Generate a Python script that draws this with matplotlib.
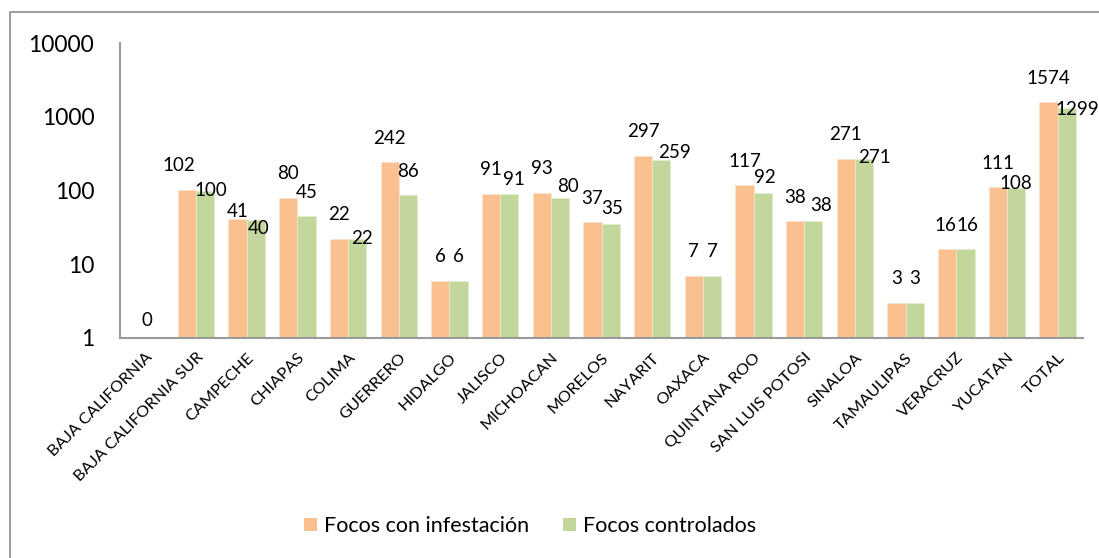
import matplotlib
matplotlib.use("Agg")
import matplotlib.pyplot as plt
import numpy as np
from matplotlib.patches import Patch, Rectangle

plt.rcParams["font.family"] = ["Lato", "DejaVu Sans"]

# data
states = [
    "BAJA CALIFORNIA", "BAJA CALIFORNIA SUR", "CAMPECHE", "CHIAPAS", "COLIMA",
    "GUERRERO", "HIDALGO", "JALISCO", "MICHOACAN", "MORELOS", "NAYARIT",
    "OAXACA", "QUINTANA ROO", "SAN LUIS POTOSI", "SINALOA", "TAMAULIPAS",
    "VERACRUZ", "YUCATAN", "TOTAL",
]
infestacion = [0, 102, 41, 80, 22, 242, 6, 91, 93, 37, 297, 7, 117, 38, 271, 3, 16, 111, 1574]
controlados = [0, 100, 40, 45, 22, 86, 6, 91, 80, 35, 259, 7, 92, 38, 271, 3, 16, 108, 1299]
series_names = ["Focos con infestación", "Focos controlados"]

ORANGE = "#FAC090"
GREEN = "#C3D69B"

# label nudges (pixels) so the value labels sit like the original's
orange_dx = [11, -8, 0, 0, 0, 0, 0, 0, 0, 0, 0, 0, 0, 0, 0, 0, -2, 0, 0]
orange_dy = [18, 24, 8, 24, 24, 24, 24, 24, 24, 24, 24, 24, 24, 24, 24, 24, 24, 24, 24]
green_dx = [0, 6, 3, 0, 5, 0, 0, 5, 8, 2, 13, 0, 2, 8, 10, 0, 2, 0, 10]
green_dy = [0, 0, -9, 24, 0, 24, 24, 14, 11, 16, 8, 24, 16, 16, 1, 24, 24, 5, -1]


def label_bars(ax, xs, vals, dxs, dys, skip_zero=False):
    for x, v, dx, dy in zip(xs, vals, dxs, dys):
        if v <= 0 and skip_zero:
            continue
        ax.annotate(str(v), (x, max(v, 1)), xytext=(dx, dy), textcoords="offset pixels",
                    ha="center", va="center", fontsize=13.5, color="black",
                    annotation_clip=False)


fig = plt.figure(figsize=(10.99, 5.58), dpi=100)
ax = fig.add_axes([120 / 1099, 1 - 338 / 558, 963 / 1099, 295 / 558])

x = np.arange(len(states))
w = 0.36
inf_plot = np.where(np.array(infestacion) > 0, infestacion, np.nan)
ctl_plot = np.where(np.array(controlados) > 0, controlados, np.nan)
ax.bar(x - w / 2, inf_plot, w, color=ORANGE, edgecolor="#fde3cc", linewidth=0.6)
ax.bar(x + w / 2, ctl_plot, w, color=GREEN, edgecolor="#e3edcf", linewidth=0.6)

ax.set_yscale("log")
ax.set_ylim(1, 10000)
ax.set_xlim(-0.5, len(states) - 0.5)
ax.set_yticks([1, 10, 100, 1000, 10000])
ax.set_yticklabels(["1", "10", "100", "1000", "10000"])
ax.yaxis.set_minor_locator(matplotlib.ticker.NullLocator())
ax.tick_params(axis="y", length=0, pad=18.5, labelsize=16.5)
ax.set_xticks(x)
ax.set_xticklabels(states, rotation=45, ha="right", va="top", rotation_mode="anchor",
                   fontsize=11.8)
ax.tick_params(axis="x", length=0, pad=9)

for side in ["top", "right"]:
    ax.spines[side].set_visible(False)
for side in ["left", "bottom"]:
    ax.spines[side].set_color("#9a9a9a")
    ax.spines[side].set_linewidth(1.5)

label_bars(ax, x - w / 2, infestacion, orange_dx, orange_dy)
label_bars(ax, x + w / 2, controlados, green_dx, green_dy, skip_zero=True)

# chart area border like the spreadsheet frame
fig.patches.append(Rectangle((10 / 1099, -0.1), 1.2, 1 - 12 / 558 + 0.1,
                             transform=fig.transFigure, fill=False,
                             edgecolor="#8c8c8c", linewidth=1.2))

handles = [Patch(facecolor=ORANGE, edgecolor="none"), Patch(facecolor=GREEN, edgecolor="none")]
fig.legend(handles, series_names, loc="center", bbox_to_anchor=(530 / 1099, 1 - 526 / 558),
           ncol=2, frameon=False, fontsize=15.5, handlelength=0.6, handleheight=0.6,
           handletextpad=0.3, columnspacing=1.6)

fig.savefig("out.png", dpi=100)
